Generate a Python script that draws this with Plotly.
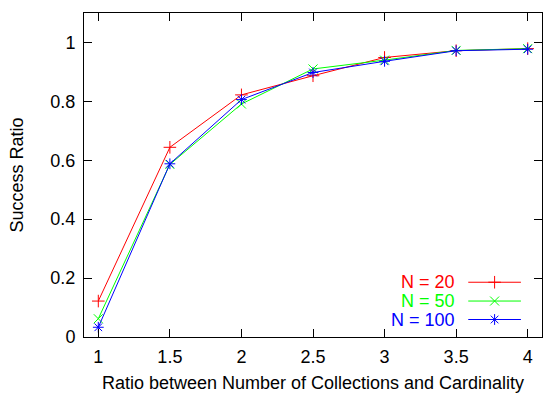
import plotly.graph_objects as go

ratio = [1, 1.5, 2, 2.5, 3, 3.5, 4]
n20 = [0.122, 0.644, 0.822, 0.887, 0.949, 0.972, 0.979]
n50 = [0.062, 0.586, 0.791, 0.910, 0.940, 0.973, 0.979]
n100 = [0.033, 0.588, 0.806, 0.898, 0.936, 0.972, 0.977]
names = ["N = 20", "N = 50", "N = 100"]
colors = ["#ff0000", "#00ff00", "#0000ff"]
symbols = ["cross-thin-open", "x-thin-open", "asterisk-open"]
xticks = [1, 1.5, 2, 2.5, 3, 3.5, 4]
yticks = [0, 0.2, 0.4, 0.6, 0.8, 1]

FONT = "Liberation Sans, Arial, sans-serif"
FS = 18
MS = 9
fig = go.Figure()
for s, nm, c, sym in zip([n20, n50, n100], names, colors, symbols):
    fig.add_trace(go.Scatter(x=ratio, y=s, mode="lines+markers", name=nm,
                             line=dict(color=c, width=1),
                             marker=dict(symbol=sym, size=MS, color=c, line=dict(color=c, width=1)),
                             showlegend=False))

# legend key (gnuplot style: text then sample)
key_y = [0.169, 0.111, 0.054]
x0, x1 = 0.839, 0.954
for nm, c, sym, ky in zip(names, colors, symbols, key_y):
    fig.add_trace(go.Scatter(x=[x0, x1], y=[ky, ky], xaxis="x2", yaxis="y2",
                             mode="lines", line=dict(color=c, width=1),
                             showlegend=False, hoverinfo="skip"))
    fig.add_trace(go.Scatter(x=[(x0 + x1) / 2], y=[ky], xaxis="x2", yaxis="y2", mode="markers",
                             marker=dict(symbol=sym, size=MS, color=c, line=dict(color=c, width=1)),
                             showlegend=False, hoverinfo="skip"))
    fig.add_annotation(x=0.814, y=ky, xref="x2", yref="y2", text=nm, showarrow=False,
                       xanchor="right", yanchor="middle", font=dict(color=c, size=FS, family=FONT))

axis_common = dict(showgrid=False, zeroline=False, showline=True, linecolor="black", linewidth=1,
                   mirror="ticks", ticks="inside", ticklen=8, tickcolor="black",
                   tickfont=dict(size=FS, family=FONT, color="black"))
fig.update_layout(
    width=543, height=393, margin=dict(l=84, r=1, t=13, b=56),
    plot_bgcolor="white", paper_bgcolor="white",
    xaxis=dict(range=[0.9, 4.1], tickvals=xticks, ticktext=[f"{v:g}" for v in xticks],
               ticklabelstandoff=3,
               title=dict(text="Ratio between Number of Collections and Cardinality",
                          font=dict(size=FS, family=FONT, color="black"), standoff=10),
               **axis_common),
    yaxis=dict(range=[0, 1.1], tickvals=yticks, ticktext=[f"{v:g}" for v in yticks],
               ticklabelstandoff=4,
               title=dict(text="Success Ratio", font=dict(size=FS, family=FONT, color="black"), standoff=22),
               **axis_common),
    xaxis2=dict(range=[0, 1], overlaying="x", visible=False, fixedrange=True),
    yaxis2=dict(range=[0, 1], overlaying="y", visible=False, fixedrange=True),
    showlegend=False,
)
fig.write_html("out.html")
